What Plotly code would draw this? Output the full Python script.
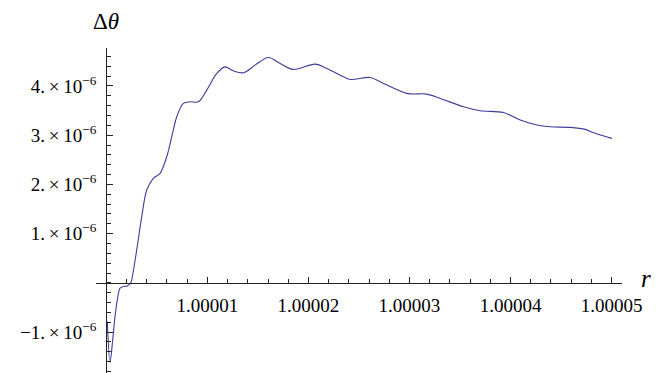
import plotly.graph_objects as go

# r values (offset from 1, in units of 1e-5) and delta-theta values (units of 1e-6)
r_offset_e5 = [0.0099, 0.0366, 0.0634, 0.0861, 0.1089, 0.1356, 0.1683, 0.2079, 0.2416, 0.2515,
               0.301, 0.3505, 0.400, 0.4653, 0.5317, 0.598, 0.6475, 0.697, 0.7624, 0.8287,
               0.9109, 0.994, 1.093, 1.175, 1.257, 1.356, 1.472, 1.604, 1.720, 1.851,
               2.066, 2.182, 2.314, 2.413, 2.611, 2.743, 2.974, 3.172, 3.304, 3.535,
               3.700, 3.931, 4.096, 4.261, 4.393, 4.591, 4.740, 4.822, 5.004]
dtheta_e6 = [-0.785, -1.617, -1.156, -0.684, -0.345, -0.108, -0.075, -0.061, 0.0, 0.061,
             0.669, 1.345, 1.886, 2.124, 2.225, 2.562, 2.968, 3.373, 3.645, 3.677,
             3.677, 3.915, 4.253, 4.387, 4.306, 4.266, 4.422, 4.578, 4.456, 4.335,
             4.442, 4.355, 4.219, 4.132, 4.172, 4.051, 3.848, 3.834, 3.746, 3.576,
             3.495, 3.462, 3.306, 3.205, 3.170, 3.158, 3.118, 3.049, 2.935]

r_vals = [1.0 + v * 1e-5 for v in r_offset_e5]
dtheta = [v * 1e-6 for v in dtheta_e6]

x_tickvals = [1.00001, 1.00002, 1.00003, 1.00004, 1.00005]
x_ticktext = ["1.00001", "1.00002", "1.00003", "1.00004", "1.00005"]
y_tickvals = [-1e-6, 1e-6, 2e-6, 3e-6, 4e-6]
y_ticktext = ["\u22121.\u2009\u00d7\u200910<sup>\u22126</sup>", "1.\u2009\u00d7\u200910<sup>\u22126</sup>",
              "2.\u2009\u00d7\u200910<sup>\u22126</sup>", "3.\u2009\u00d7\u200910<sup>\u22126</sup>",
              "4.\u2009\u00d7\u200910<sup>\u22126</sup>"]

x_min, x_max = 1.0 - 0.102e-5, 1.0 + 5.103e-5
y_min, y_max = -1.83e-6, 4.77e-6

FONT = "Liberation Serif"
AX = "#222222"

fig = go.Figure()
fig.add_trace(go.Scatter(x=r_vals, y=dtheta, mode="lines",
                         line=dict(color="#3D3D99", width=1.1, shape="spline", smoothing=0.9),
                         hoverinfo="skip", showlegend=False))

fig.update_layout(
    width=654, height=365,
    margin=dict(l=88, r=40, t=40, b=0, pad=0),
    paper_bgcolor="white", plot_bgcolor="white",
    font=dict(family=FONT, size=19, color="black"),
    xaxis=dict(range=[x_min, x_max], showgrid=False, zeroline=False,
               showline=True, linecolor=AX, linewidth=1,
               anchor="free", position=(0 - y_min) / (y_max - y_min), side="bottom",
               tickmode="array", tickvals=x_tickvals, ticktext=x_ticktext,
               tickfont=dict(family=FONT, size=19, color="black"),
               ticks="inside", ticklen=6, tickcolor=AX, tickwidth=1,
               ticklabelstandoff=5,
               minor=dict(tickmode="linear", tick0=1.0, dtick=2e-6, ticks="inside",
                          ticklen=3.5, tickcolor=AX, tickwidth=1, showgrid=False)),
    yaxis=dict(range=[y_min, y_max], showgrid=False, zeroline=False,
               showline=True, linecolor=AX, linewidth=1,
               anchor="free", position=(1.0 - x_min) / (x_max - x_min), side="left",
               tickmode="array", tickvals=y_tickvals, ticktext=y_ticktext,
               tickfont=dict(family=FONT, size=19, color="black"),
               ticks="inside", ticklen=6, tickcolor=AX, tickwidth=1,
               ticklabelstandoff=6,
               minor=dict(tickmode="linear", tick0=0, dtick=2e-7, ticks="inside",
                          ticklen=3.5, tickcolor=AX, tickwidth=1, showgrid=False)),
    annotations=[
        dict(text="\u0394<i>\u03b8</i>", xref="paper", yref="paper", x=(90.5 - 96) / 526,
             y=(373 - 21) / 325, xanchor="left", yanchor="middle", align="left",
             showarrow=False, font=dict(family=FONT, size=23, color="black")),
        dict(text="<i>r</i>", xref="paper", yref="y", x=(639 - 96) / 526, y=0,
             xanchor="left", yanchor="middle", align="left", yshift=4,
             showarrow=False, font=dict(family=FONT, size=25, color="black")),
    ],
)

fig.write_html("out.html")
